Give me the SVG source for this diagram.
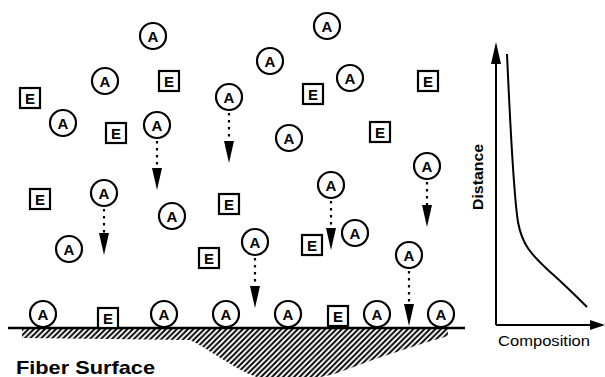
<svg xmlns="http://www.w3.org/2000/svg" width="605" height="377" viewBox="0 0 605 377">
<style>
.a circle{fill:#fff;stroke:#000;stroke-width:2.2}
.e rect{fill:#fff;stroke:#000;stroke-width:2.2}
.lbl{font-family:"Liberation Sans",Arial,sans-serif;font-weight:bold;text-anchor:middle;fill:#000}
.a text{font-size:15px}
.e text{font-size:15px}
.dot{stroke:#000;stroke-width:2.2;stroke-dasharray:2.5,4.5;fill:none}
.head{fill:#000}
</style>
<defs>
<pattern id="hatch" patternUnits="userSpaceOnUse" width="5.5" height="5.5">
<path d="M-1,1 l2,-2 M0,5.5 l5.5,-5.5 M4.5,6.5 l2,-2" stroke="#000" stroke-width="1.9"/>
</pattern>
<g id="Asym" class="a"><circle r="13"/><text class="lbl" y="5.5">A</text></g>
<g id="Esym" class="e"><rect x="-10" y="-10" width="20" height="20"/><text class="lbl" y="5.5">E</text></g>
</defs>
<rect width="605" height="377" fill="#fff"/>

<g id="surface">
<path d="M22,329 L448,329 L448,336 C420,344 385,355 340,372 C325,378 300,380 270,380 C245,378 215,352 190,340 L22,338 Z" fill="url(#hatch)"/>
<path d="M8,328 L465,328" stroke="#000" stroke-width="2.5"/>
</g>

<g id="connectors">
<path class="dot" d="M157,141 V168"/><path class="head" d="M152,168 L162,168 L157,190 Z"/>
<path class="dot" d="M229,113 V141"/><path class="head" d="M224,141 L234,141 L229,163 Z"/>
<path class="dot" d="M104,209 V233"/><path class="head" d="M99,233 L109,233 L104,255 Z"/>
<path class="dot" d="M331,201 V228"/><path class="head" d="M326,228 L336,228 L331,250 Z"/>
<path class="dot" d="M427,182 V205"/><path class="head" d="M422,205 L432,205 L427,227 Z"/>
<path class="dot" d="M255,258 V286"/><path class="head" d="M250,286 L260,286 L255,308 Z"/>
<path class="dot" d="M409,271 V304"/><path class="head" d="M404,304 L414,304 L409,326 Z"/>
</g>

<g id="nA1"><use href="#Asym" x="153" y="36"/></g>
<g id="nA2"><use href="#Asym" x="105" y="81"/></g>
<g id="nA3"><use href="#Asym" x="63" y="123"/></g>
<g id="nA4"><use href="#Asym" x="157" y="125"/></g>
<g id="nA5"><use href="#Asym" x="229" y="97"/></g>
<g id="nA6"><use href="#Asym" x="327" y="26"/></g>
<g id="nA7"><use href="#Asym" x="270" y="61"/></g>
<g id="nA8"><use href="#Asym" x="350" y="78"/></g>
<g id="nA9"><use href="#Asym" x="289" y="138"/></g>
<g id="nA10"><use href="#Asym" x="427" y="166"/></g>
<g id="nA11"><use href="#Asym" x="331" y="185"/></g>
<g id="nA12"><use href="#Asym" x="104" y="193"/></g>
<g id="nA13"><use href="#Asym" x="172" y="216"/></g>
<g id="nA14"><use href="#Asym" x="355" y="233"/></g>
<g id="nA15"><use href="#Asym" x="255" y="242"/></g>
<g id="nA16"><use href="#Asym" x="409" y="255"/></g>
<g id="nA17"><use href="#Asym" x="69" y="249"/></g>
<g id="nA18"><use href="#Asym" x="43" y="314"/></g>
<g id="nA19"><use href="#Asym" x="164" y="314"/></g>
<g id="nA20"><use href="#Asym" x="226" y="314"/></g>
<g id="nA21"><use href="#Asym" x="288" y="314"/></g>
<g id="nA22"><use href="#Asym" x="377" y="314"/></g>
<g id="nA23"><use href="#Asym" x="441" y="314"/></g>

<g id="nE1"><use href="#Esym" x="169" y="81"/></g>
<g id="nE2"><use href="#Esym" x="30" y="98"/></g>
<g id="nE3"><use href="#Esym" x="116" y="133"/></g>
<g id="nE4"><use href="#Esym" x="313" y="94"/></g>
<g id="nE5"><use href="#Esym" x="428" y="81"/></g>
<g id="nE6"><use href="#Esym" x="380" y="132"/></g>
<g id="nE7"><use href="#Esym" x="40" y="199"/></g>
<g id="nE8"><use href="#Esym" x="229" y="204"/></g>
<g id="nE9"><use href="#Esym" x="209" y="258"/></g>
<g id="nE10"><use href="#Esym" x="312" y="245"/></g>
<g id="nE11"><use href="#Esym" x="108" y="318"/></g>
<g id="nE12"><use href="#Esym" x="338" y="316"/></g>

<g id="graph">
<path d="M496,325 V60" stroke="#000" stroke-width="2"/>
<path d="M491,64 L501,64 L496,42 Z" fill="#000"/>
<path d="M496,325 H592" stroke="#000" stroke-width="2"/>
<path d="M590,320 L590,330 L605,325 Z" fill="#000"/>
<path d="M507,54 C510,120 513,190 518,222 C522,245 532,255 548,270 C565,285 578,298 587,307" fill="none" stroke="#000" stroke-width="2"/>
<text transform="translate(483,177) rotate(-90)" font-family="'Liberation Sans',Arial,sans-serif" font-weight="bold" font-size="14" text-anchor="middle" textLength="66" lengthAdjust="spacingAndGlyphs">Distance</text>
<text x="498" y="346" font-family="'Liberation Sans',Arial,sans-serif" font-size="15" textLength="92" lengthAdjust="spacingAndGlyphs">Composition</text>
</g>

<text x="16" y="374" font-family="'Liberation Sans',Arial,sans-serif" font-weight="bold" font-size="19" textLength="139" lengthAdjust="spacingAndGlyphs">Fiber Surface</text>
</svg>
